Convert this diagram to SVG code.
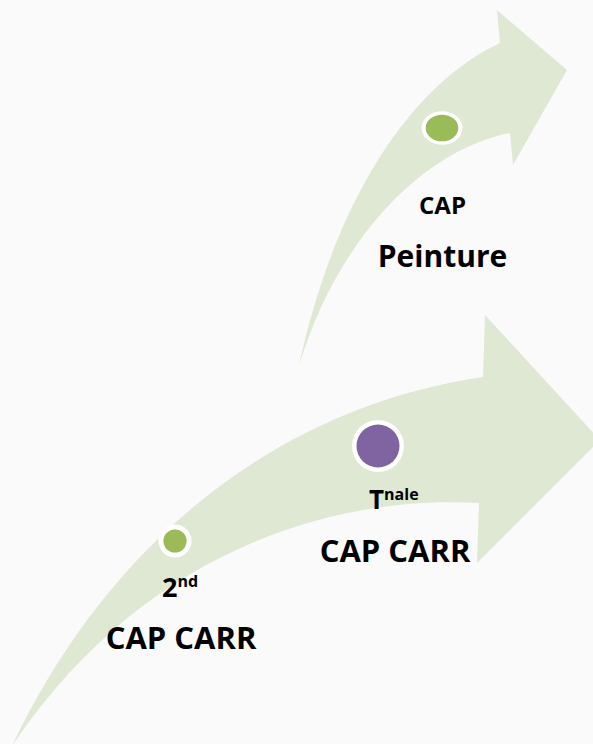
<svg xmlns="http://www.w3.org/2000/svg" width="593" height="744" viewBox="0 0 593 744">
<style>
.arrow{fill:#dfe8d3;stroke:none}
.ring{fill:#ffffff}
.green{fill:#9bbb59}
.purple{fill:#8064a2}
.lbl{font-family:"Open Sans","Liberation Sans",sans-serif;font-weight:700;fill:#000000}
</style>
<rect x="0" y="0" width="593" height="744" fill="#fafafa"/>
<g id="connectors">
<path id="arrow-top" class="arrow" d="M299,366 C330,220 400,90 500,43 L497,10 L567,70 L513,165 L510,133 C430,148 340,230 299,366 Z"/>
<path id="arrow-bottom" class="arrow" d="M12,746 C100,560 260,410 483,377 L485,315 L600,440 L477,563 L479,503 C350,495 150,540 12,746 Z"/>
</g>
<g id="node-peinture">
<ellipse class="ring" cx="442" cy="128" rx="20.5" ry="16.7"/>
<ellipse class="green" cx="442" cy="128" rx="16.3" ry="13.3"/>
<text class="lbl" x="442.5" y="214" font-size="24" text-anchor="middle">CAP</text>
<text class="lbl" x="442.5" y="267" font-size="30" text-anchor="middle">Peinture</text>
</g>
<g id="node-2nd">
<circle class="ring" cx="175" cy="541" r="16.5"/>
<circle class="green" cx="175" cy="541" r="11.6"/>
<text class="lbl" x="162" y="597" font-size="27">2<tspan font-size="16" dy="-10">nd</tspan></text>
<text class="lbl" x="181" y="649" font-size="31" text-anchor="middle">CAP CARR</text>
</g>
<g id="node-tnale">
<circle class="ring" cx="378" cy="446" r="26"/>
<circle class="purple" cx="378" cy="446" r="21.5"/>
<text class="lbl" x="369" y="509" font-size="26">T<tspan font-size="16" dy="-9">nale</tspan></text>
<text class="lbl" x="395" y="562" font-size="31" text-anchor="middle">CAP CARR</text>
</g>
</svg>
